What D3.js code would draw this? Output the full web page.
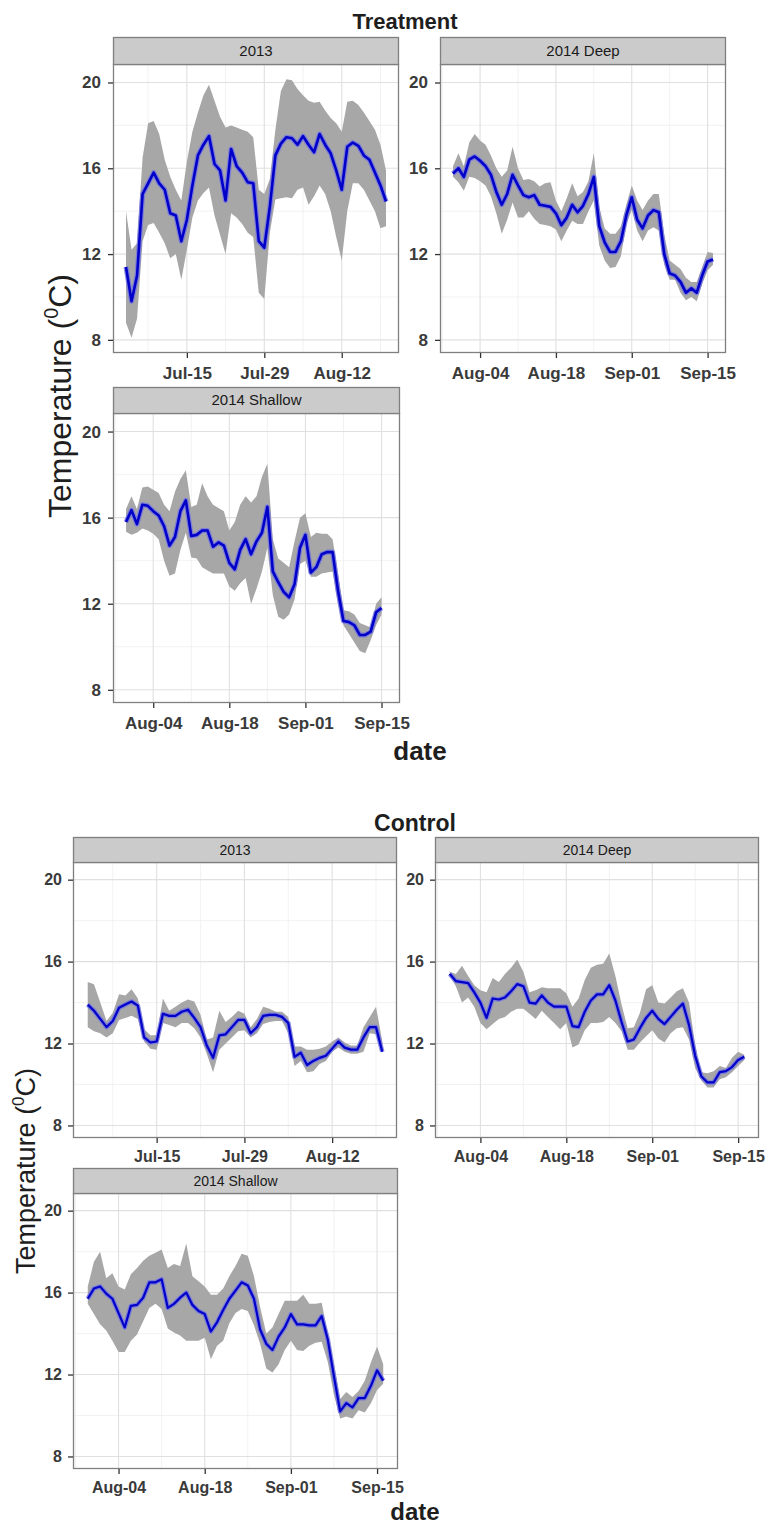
<!DOCTYPE html>
<html>
<head>
<meta charset="utf-8">
<script src="https://cdn.jsdelivr.net/npm/d3@7"></script>
<style>
  body { margin: 0; background: #fff; }
  svg { display: block; }
  text { font-family: "Liberation Sans", Arial, Helvetica, sans-serif; }
</style>
</head>
<body>
<svg id="chart" width="770" height="1524"></svg>
<script>
// ---------- data ----------
const yTicks = [8, 12, 16, 20];
const yMinorTicks = [10, 14, 18];
const yLimits = [8.0, 20.25];

const start2013 = "2013-07-04";
const start2014 = "2014-07-30";
const ticks2013 = ["2013-07-15", "2013-07-29", "2013-08-12"];
const ticks2014 = ["2014-08-04", "2014-08-18", "2014-09-01", "2014-09-15"];

const facetLabels = ["2013", "2014 Deep", "2014 Shallow"];
const groups = ["Treatment", "Control"];

// Treatment, 2013 (daily means with min/max envelope)
const trt2013Mean = [11.4, 9.8, 11.0, 14.8, 15.3, 15.8, 15.3, 15.0, 13.9, 13.8, 12.6, 13.6, 15.2, 16.6, 17.1, 17.5, 16.2, 15.9, 14.5, 16.9, 16.1, 15.8, 15.35, 15.3, 12.6, 12.3, 14.2, 16.6, 17.15, 17.45, 17.4, 17.1, 17.5, 17.1, 16.75, 17.6, 17.1, 16.7, 15.9, 15.0, 17.0, 17.2, 17.05, 16.6, 16.4, 15.8, 15.2, 14.45];
const trt2013Hi = [14.0, 12.2, 12.5, 16.5, 18.1, 18.2, 17.6, 16.4, 15.6, 15.0, 14.5, 16.3, 17.7, 18.6, 19.4, 19.9, 19.15, 18.4, 17.9, 18.0, 17.9, 17.8, 17.7, 17.45, 15.0, 14.8, 15.5, 17.8, 19.6, 20.15, 20.1, 19.7, 19.4, 19.15, 19.05, 19.1, 18.7, 18.35, 18.1, 17.7, 19.1, 19.15, 18.95, 18.6, 18.2, 17.8, 17.1, 15.9];
const trt2013Lo = [8.8, 8.1, 9.0, 12.6, 13.35, 13.45, 13.0, 12.5, 11.8, 12.0, 10.8, 12.2, 13.7, 14.5, 14.85, 15.1, 13.8, 12.9, 12.0, 13.9, 13.7, 13.4, 13.0, 12.8, 10.2, 9.9, 13.0, 14.55, 14.6, 14.65, 14.6, 15.0, 15.1, 14.3, 14.7, 15.2, 14.8, 14.0, 12.8, 11.7, 14.0, 15.3, 15.3, 15.0, 14.5, 14.0, 13.2, 13.3];

// Treatment, 2014 deep
const trtDeepMean = [15.75, 16.0, 15.6, 16.4, 16.55, 16.35, 16.1, 15.7, 14.9, 14.3, 14.8, 15.7, 15.2, 14.75, 14.65, 14.75, 14.3, 14.25, 14.2, 13.9, 13.35, 13.7, 14.3, 13.95, 14.25, 14.8, 15.6, 13.3, 12.55, 12.1, 12.1, 12.6, 13.8, 14.65, 13.6, 13.2, 13.8, 14.05, 13.95, 12.0, 11.1, 11.0, 10.7, 10.2, 10.4, 10.2, 11.0, 11.65, 11.75];
const trtDeepHi = [16.1, 16.7, 16.1, 17.2, 17.6, 17.3, 17.1, 16.6, 16.0, 15.6, 15.9, 17.0, 16.0, 15.45, 15.5, 15.4, 15.15, 15.3, 15.35, 14.5, 14.0, 14.6, 15.3, 14.7, 14.9, 15.4, 16.7, 14.2, 13.2, 12.95, 12.95, 13.3, 14.3, 15.2, 14.5, 14.05, 14.5, 14.8, 14.8, 12.9, 11.7, 11.5, 11.3, 10.9, 10.7, 10.7, 11.4, 12.1, 12.05];
const trtDeepLo = [15.6, 15.35, 14.95, 15.6, 15.55, 15.4, 15.2, 14.7, 13.9, 12.95, 13.6, 14.4, 13.7, 13.7, 14.0, 13.65, 13.4, 13.35, 13.3, 13.15, 12.6, 13.1, 13.55, 13.4, 13.4, 14.0, 14.5, 12.4, 11.7, 11.35, 11.4, 11.9, 13.4, 14.05, 13.1, 12.6, 13.1, 13.25, 13.1, 11.5, 10.8, 10.8, 10.2, 9.85, 10.0, 9.8, 10.6, 11.25, 11.5];

// Treatment, 2014 shallow
const trtShallowMean = [15.8, 16.35, 15.7, 16.6, 16.55, 16.3, 16.1, 15.6, 14.7, 15.1, 16.3, 16.8, 15.15, 15.2, 15.4, 15.4, 14.65, 14.85, 14.7, 13.9, 13.6, 14.5, 15.0, 14.3, 14.9, 15.3, 16.5, 13.5, 13.0, 12.55, 12.3, 12.9, 14.6, 15.2, 13.45, 13.7, 14.3, 14.4, 14.4, 12.6, 11.2, 11.15, 11.0, 10.55, 10.55, 10.7, 11.6, 11.8];
const trtShallowHi = [16.4, 17.0, 16.4, 17.4, 17.45, 17.3, 17.15, 16.6, 16.3, 17.2, 17.8, 18.2, 16.5, 16.6, 17.6, 17.0, 16.6, 16.45, 16.3, 15.4, 15.8, 16.6, 17.0, 16.7, 17.0, 17.9, 18.5, 15.0, 14.1, 13.9, 13.7, 14.9, 16.0, 16.2, 15.1, 15.3, 15.25, 15.25, 15.0, 13.4, 11.7, 11.65, 11.5, 11.1, 11.0, 10.9, 12.0, 12.3];
const trtShallowLo = [15.35, 15.2, 15.3, 15.5, 15.4, 15.25, 15.0, 14.0, 13.3, 13.4, 14.5, 15.3, 14.15, 14.1, 13.7, 13.55, 13.4, 13.4, 13.4, 12.8, 12.6, 12.95, 13.2, 12.0, 12.7, 13.5, 14.6, 12.4, 11.4, 11.25, 11.5, 12.2, 13.85, 14.0, 13.25, 13.25, 13.4, 13.45, 13.5, 12.0, 11.0, 10.6, 10.2, 9.8, 9.7, 10.3, 11.0, 11.5];

// Control, 2013
const ctl2013Mean = [13.9, 13.6, 13.2, 12.8, 13.1, 13.75, 13.9, 14.05, 13.85, 12.3, 12.05, 12.1, 13.45, 13.35, 13.35, 13.55, 13.65, 13.25, 12.8, 11.9, 11.3, 12.4, 12.45, 12.8, 13.15, 13.15, 12.5, 12.8, 13.35, 13.4, 13.4, 13.3, 13.0, 11.35, 11.55, 10.95, 11.15, 11.3, 11.4, 11.75, 12.1, 11.8, 11.7, 11.7, 12.3, 12.8, 12.8, 11.6];
const ctl2013Hi = [15.0, 14.9, 14.0, 13.1, 13.5, 14.4, 14.35, 14.65, 14.2, 12.7, 12.4, 12.4, 14.2, 13.6, 13.8, 14.0, 14.15, 14.05, 13.4, 12.2, 12.3, 13.6, 13.05, 13.3, 13.6, 13.45, 12.8, 13.2, 13.8, 13.7, 13.55, 13.55, 13.3, 11.85, 11.85, 11.7, 11.7, 11.75, 11.85, 12.1, 12.3, 12.05, 11.9, 11.9, 12.8, 13.3, 13.8, 12.1];
const ctl2013Lo = [12.8, 12.6, 12.5, 12.3, 12.5, 13.15, 13.25, 13.35, 13.2, 12.1, 11.75, 11.7, 13.0, 12.9, 12.8, 13.0, 13.0, 12.75, 12.3, 11.5, 10.6, 11.7, 12.0, 12.3, 12.6, 12.65, 12.3, 12.5, 12.95, 13.05, 13.1, 13.1, 12.5, 10.9, 11.15, 10.6, 10.65, 11.0, 11.15, 11.6, 11.8, 11.6, 11.5, 11.5, 11.6, 12.5, 12.45, 11.55];

// Control, 2014 deep
const ctlDeepMean = [15.4, 15.05, 15.0, 14.95, 14.5, 14.0, 13.25, 14.2, 14.15, 14.25, 14.55, 14.9, 14.8, 14.0, 13.95, 14.35, 14.0, 13.8, 13.8, 13.8, 12.85, 12.8, 13.55, 14.1, 14.4, 14.4, 14.85, 14.1, 13.05, 12.1, 12.2, 12.75, 13.25, 13.6, 13.2, 12.95, 13.3, 13.65, 13.95, 12.9, 11.4, 10.4, 10.1, 10.1, 10.6, 10.65, 10.85, 11.2, 11.35];
const ctlDeepHi = [15.5, 15.4, 15.8, 15.3, 14.85, 14.6, 14.5, 15.2, 15.0, 15.4, 15.7, 16.1, 15.5, 14.5, 14.6, 14.75, 14.7, 14.7, 14.7, 14.45, 13.8, 14.2, 15.1, 15.7, 15.85, 15.9, 16.4, 15.3, 13.9, 12.75, 12.8, 13.5, 14.65, 14.85, 14.0, 13.95, 14.25, 14.55, 14.7, 14.0, 11.9, 10.6, 10.55, 10.65, 10.9, 10.8, 11.3, 11.6, 11.45];
const ctlDeepLo = [15.3, 14.8, 14.0, 14.25, 13.8, 13.0, 12.7, 12.95, 13.2, 13.3, 13.55, 13.7, 13.7, 13.45, 13.2, 13.6, 13.3, 13.0, 12.7, 13.0, 11.8, 11.95, 12.65, 13.0, 13.0, 13.05, 13.3, 13.0, 12.6, 11.7, 11.7, 12.05, 12.35, 12.65, 12.25, 12.05, 12.5, 12.75, 12.8, 12.2, 10.8, 10.2, 9.85, 9.85, 10.25, 10.35, 10.6, 10.9, 11.2];

// Control, 2014 shallow
const ctlShallowMean = [15.7, 16.2, 16.3, 15.95, 15.7, 15.0, 14.3, 15.35, 15.4, 15.75, 16.5, 16.5, 16.65, 15.25, 15.45, 15.75, 16.0, 15.4, 15.1, 14.95, 14.1, 14.55, 15.15, 15.7, 16.1, 16.5, 16.35, 15.7, 14.2, 13.5, 13.2, 13.85, 14.3, 14.95, 14.45, 14.45, 14.4, 14.4, 14.85, 13.7, 11.9, 10.2, 10.6, 10.4, 10.85, 10.85, 11.45, 12.2, 11.7];
const ctlShallowHi = [16.3, 17.5, 18.0, 16.7, 16.95, 16.3, 16.15, 16.9, 17.2, 17.55, 17.8, 17.95, 18.1, 17.2, 17.4, 17.3, 18.4, 16.8, 16.55, 16.3, 15.9, 15.9, 16.2, 16.8, 17.3, 17.9, 17.8, 16.8, 15.3, 14.0, 14.3, 14.95, 15.6, 15.6, 15.6, 15.9, 15.45, 15.45, 15.5, 14.0, 12.5, 10.8, 11.15, 10.9, 11.2, 11.7, 12.6, 13.35, 12.5];
const ctlShallowLo = [15.45, 14.95, 14.45, 14.15, 13.65, 13.1, 13.1, 13.65, 13.95, 14.6, 15.25, 15.45, 15.2, 14.25, 14.05, 13.9, 13.65, 13.65, 13.65, 13.8, 12.75, 13.4, 13.65, 14.5, 15.0, 15.2, 15.1, 14.4, 13.5, 12.3, 12.1, 12.5, 13.2, 13.65, 13.2, 13.15, 13.4, 13.55, 13.6, 12.6, 11.0, 9.85, 9.95, 9.85, 10.25, 10.15, 10.6, 11.25, 11.55];

// ---------- layout & style ----------
const layout = {
  Treatment: {
    title: { x: 405, y: 29, size: 22 },
    yLabel: { x: 71, y: 396, size: 32 },
    xLabel: { x: 420, y: 760, size: 26 },
    tickFont: 17, tickPadX: 8.5, tickPadY: 7, stripFont: 15, lineW: 2.6,
    boxes: {
      "2013":         { x0: 113, x1: 399, top: 37,  stripH: 27, y1: 353 },
      "2014 Deep":    { x0: 440, x1: 726, top: 37,  stripH: 27, y1: 353 },
      "2014 Shallow": { x0: 113, x1: 400, top: 387, stripH: 26, y1: 703 }
    }
  },
  Control: {
    title: { x: 415, y: 831, size: 23 },
    yLabel: { x: 35, y: 1171, size: 27 },
    xLabel: { x: 415, y: 1520, size: 24 },
    tickFont: 16, tickPadX: 7.5, tickPadY: 6, stripFont: 14, lineW: 2.2,
    boxes: {
      "2013":         { x0: 73,  x1: 397, top: 837,  stripH: 25, y1: 1138 },
      "2014 Deep":    { x0: 435, x1: 759, top: 837,  stripH: 25, y1: 1138 },
      "2014 Shallow": { x0: 73,  x1: 398, top: 1168, stripH: 25, y1: 1469 }
    }
  }
};

const style = {
  ribbon: "#a7a7a7",
  lineCore: "#0000c8",
  lineHalo: "#7474e2",
  gridMajor: "#e0e0e0",
  gridMinor: "#efefef",
  border: "#7f7f7f",
  strip: "#cbcbcb",
  tickText: "#3a3a3a",
  tickLine: "#333333",
  title: "#1e1e1e"
};

// ---------- helpers ----------
const parseDay = d3.timeParse("%Y-%m-%d");
const fmtTick = d3.timeFormat("%b-%d");

function buildSeries(start, mean, lo, hi) {
  const t0 = parseDay(start);
  return mean.map((m, i) => ({ date: d3.timeDay.offset(t0, i), mean: m, lo: lo[i], hi: hi[i] }));
}

function expand(lo, hi, frac) {
  const r = hi - lo;
  return [lo - r * frac, hi + r * frac];
}

const figureData = {
  Treatment: [
    { facet: "2013", start: start2013, ticks: ticks2013, rows: buildSeries(start2013, trt2013Mean, trt2013Lo, trt2013Hi) },
    { facet: "2014 Deep", start: start2014, ticks: ticks2014, rows: buildSeries(start2014, trtDeepMean, trtDeepLo, trtDeepHi) },
    { facet: "2014 Shallow", start: start2014, ticks: ticks2014, rows: buildSeries(start2014, trtShallowMean, trtShallowLo, trtShallowHi) }
  ],
  Control: [
    { facet: "2013", start: start2013, ticks: ticks2013, rows: buildSeries(start2013, ctl2013Mean, ctl2013Lo, ctl2013Hi) },
    { facet: "2014 Deep", start: start2014, ticks: ticks2014, rows: buildSeries(start2014, ctlDeepMean, ctlDeepLo, ctlDeepHi) },
    { facet: "2014 Shallow", start: start2014, ticks: ticks2014, rows: buildSeries(start2014, ctlShallowMean, ctlShallowLo, ctlShallowHi) }
  ]
};

const svg = d3.select("#chart");
const yDom = expand(yLimits[0], yLimits[1], 0.05);
let clipId = 0;

groups.forEach(group => {
  const L = layout[group];
  const panels = figureData[group];
  const g = svg.append("g").attr("class", "figure-" + group.toLowerCase());

  // panels that share a season share the same date range
  const seasonExtent = {};
  panels.forEach(p => {
    const ext = d3.extent(p.rows, d => +d.date);
    const cur = seasonExtent[p.start];
    seasonExtent[p.start] = cur ? [Math.min(cur[0], ext[0]), Math.max(cur[1], ext[1])] : ext;
  });

  panels.forEach(p => {
    const b = L.boxes[p.facet];
    const plotTop = b.top + b.stripH;
    const ext = seasonExtent[p.start];
    const xd = expand(ext[0], ext[1], 0.05);
    const x = d3.scaleTime().domain([new Date(xd[0]), new Date(xd[1])]).range([b.x0, b.x1]);
    const y = d3.scaleLinear().domain(yDom).range([b.y1, plotTop]);

    const majorDates = p.ticks.map(parseDay);
    const minorDates = majorDates.map(d => d3.timeDay.offset(d, -7))
      .concat([d3.timeDay.offset(majorDates[majorDates.length - 1], 7)])
      .filter(d => d >= x.domain()[0] && d <= x.domain()[1]);

    const pg = g.append("g").attr("class", "panel");
    const cid = "clip" + (clipId++);
    pg.append("clipPath").attr("id", cid).append("rect")
      .attr("x", b.x0).attr("y", plotTop).attr("width", b.x1 - b.x0).attr("height", b.y1 - plotTop);

    pg.append("rect").attr("x", b.x0).attr("y", plotTop)
      .attr("width", b.x1 - b.x0).attr("height", b.y1 - plotTop).attr("fill", "#fff");

    const grid = pg.append("g").attr("clip-path", `url(#${cid})`);
    grid.selectAll("line.ymin").data(yMinorTicks).join("line").attr("class", "ymin")
      .attr("x1", b.x0).attr("x2", b.x1).attr("y1", d => y(d)).attr("y2", d => y(d))
      .attr("stroke", style.gridMinor).attr("stroke-width", 0.8);
    grid.selectAll("line.xmin").data(minorDates).join("line").attr("class", "xmin")
      .attr("y1", plotTop).attr("y2", b.y1).attr("x1", d => x(d)).attr("x2", d => x(d))
      .attr("stroke", style.gridMinor).attr("stroke-width", 0.8);
    grid.selectAll("line.ymaj").data(yTicks).join("line").attr("class", "ymaj")
      .attr("x1", b.x0).attr("x2", b.x1).attr("y1", d => y(d)).attr("y2", d => y(d))
      .attr("stroke", style.gridMajor).attr("stroke-width", 1.1);
    grid.selectAll("line.xmaj").data(majorDates).join("line").attr("class", "xmaj")
      .attr("y1", plotTop).attr("y2", b.y1).attr("x1", d => x(d)).attr("x2", d => x(d))
      .attr("stroke", style.gridMajor).attr("stroke-width", 1.1);

    const marks = pg.append("g").attr("clip-path", `url(#${cid})`);
    const area = d3.area().x(d => x(d.date)).y0(d => y(d.lo)).y1(d => y(d.hi));
    marks.append("path").datum(p.rows).attr("d", area).attr("fill", style.ribbon);

    const line = d3.line().x(d => x(d.date)).y(d => y(d.mean));
    marks.append("path").datum(p.rows).attr("d", line)
      .attr("fill", "none").attr("stroke", style.lineHalo).attr("stroke-width", L.lineW + 2.4)
      .attr("stroke-linejoin", "round").attr("stroke-opacity", 0.85);
    marks.append("path").datum(p.rows).attr("d", line)
      .attr("fill", "none").attr("stroke", style.lineCore).attr("stroke-width", L.lineW)
      .attr("stroke-linejoin", "round");

    // panel border
    pg.append("rect").attr("x", b.x0 + 0.5).attr("y", plotTop + 0.5)
      .attr("width", b.x1 - b.x0 - 1).attr("height", b.y1 - plotTop - 1)
      .attr("fill", "none").attr("stroke", style.border).attr("stroke-width", 1.3);

    // facet strip
    pg.append("rect").attr("x", b.x0 + 0.5).attr("y", b.top + 0.5)
      .attr("width", b.x1 - b.x0 - 1).attr("height", b.stripH)
      .attr("fill", style.strip).attr("stroke", style.border).attr("stroke-width", 1.3);
    pg.append("text").attr("x", (b.x0 + b.x1) / 2).attr("y", b.top + b.stripH / 2)
      .attr("dy", "0.36em").attr("text-anchor", "middle")
      .attr("font-size", L.stripFont).attr("fill", "#1a1a1a").text(p.facet);

    // axes
    const yAxis = d3.axisLeft(y).tickValues(yTicks).tickSize(5).tickPadding(L.tickPadY).tickFormat(d3.format("d"));
    const ya = pg.append("g").attr("transform", `translate(${b.x0},0)`).call(yAxis);
    const xAxis = d3.axisBottom(x).tickValues(majorDates).tickSize(5).tickPadding(L.tickPadX).tickFormat(fmtTick);
    const xa = pg.append("g").attr("transform", `translate(0,${b.y1})`).call(xAxis);
    [ya, xa].forEach(ax => {
      ax.select(".domain").remove();
      ax.selectAll(".tick line").attr("stroke", style.tickLine).attr("stroke-width", 1.3);
      ax.selectAll(".tick text").attr("fill", style.tickText)
        .attr("font-size", L.tickFont).attr("font-weight", "bold")
        .attr("font-family", "'Liberation Sans', Arial, sans-serif");
    });
  });

  // titles
  g.append("text").attr("x", L.title.x).attr("y", L.title.y).attr("text-anchor", "middle")
    .attr("font-size", L.title.size).attr("font-weight", "bold").attr("fill", style.title).text(group);

  g.append("text").attr("x", L.xLabel.x).attr("y", L.xLabel.y).attr("text-anchor", "middle")
    .attr("font-size", L.xLabel.size).attr("font-weight", "bold").attr("fill", style.title).text("date");

  const yl = g.append("text")
    .attr("transform", `translate(${L.yLabel.x},${L.yLabel.y}) rotate(-90)`)
    .attr("text-anchor", "middle").attr("font-size", L.yLabel.size).attr("fill", style.title);
  yl.append("tspan").text("Temperature (");
  yl.append("tspan").attr("font-size", L.yLabel.size * 0.62).attr("dy", -L.yLabel.size * 0.42).text("0");
  yl.append("tspan").attr("dy", L.yLabel.size * 0.42).text("C)");
});
</script>
</body>
</html>
